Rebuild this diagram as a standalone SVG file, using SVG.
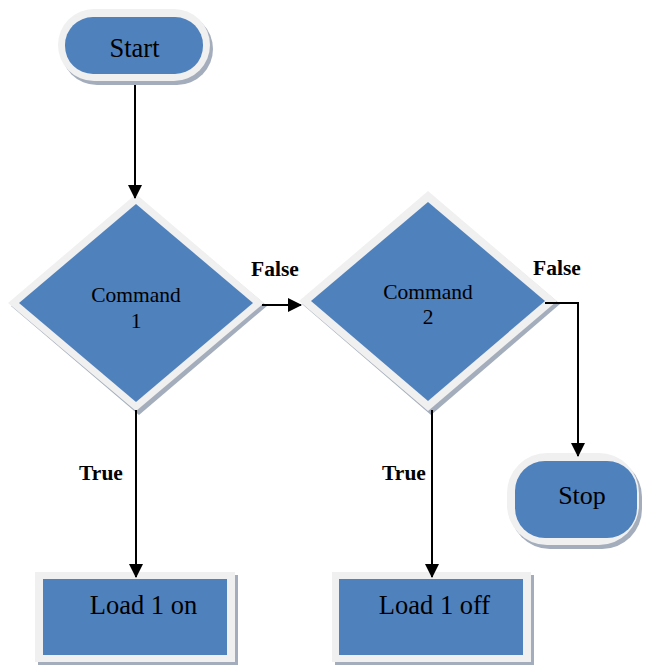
<svg xmlns="http://www.w3.org/2000/svg" width="645" height="666" viewBox="0 0 645 666">
  <style>
    .shadow { fill: #a3adbc; }
    .outer { fill: #f0f0f0; }
    .inner { fill: #4f81bd; }
    .conn { fill: none; stroke: #000; stroke-width: 2; }
  </style>
  <defs>
    <marker id="arrow" markerUnits="userSpaceOnUse" markerWidth="14" markerHeight="14" viewBox="0 0 14 14" refX="13" refY="7" orient="auto">
      <path d="M0,0 L14,7 L0,14 Z" fill="#000"/>
    </marker>
  </defs>
  <rect width="645" height="666" fill="#ffffff"/>

  <g id="start">
    <rect class="shadow" x="61" y="13" width="152" height="72" rx="36"/>
    <rect class="outer" x="58" y="9" width="152" height="72" rx="36"/>
    <rect class="inner" x="65" y="17" width="138" height="57" rx="28"/>
    <text x="134.5" y="57" font-family="'Liberation Serif', 'Times New Roman', serif" font-size="26.5" text-anchor="middle" fill="#000">Start</text>
  </g>

  <g id="command1">
    <polygon class="shadow" points="139,198 267,306 139,415 11,306"/>
    <polygon class="outer" points="136,194 264,303 136,411 8,303"/>
    <polygon class="inner" points="136,204 253,303 136,402 19,303"/>
    <text x="136" y="302" font-family="'Liberation Serif', 'Times New Roman', serif" font-size="21.5" text-anchor="middle" fill="#000">Command</text>
    <text x="136" y="328" font-family="'Liberation Serif', 'Times New Roman', serif" font-size="21.5" text-anchor="middle" fill="#000">1</text>
  </g>

  <g id="command2">
    <polygon class="shadow" points="431,195 560,304 431,415 302,304"/>
    <polygon class="outer" points="428,191 557,301 428,411 299,301"/>
    <polygon class="inner" points="428,202 545,301 428,401 311,301"/>
    <text x="428" y="299" font-family="'Liberation Serif', 'Times New Roman', serif" font-size="21.5" text-anchor="middle" fill="#000">Command</text>
    <text x="428" y="324" font-family="'Liberation Serif', 'Times New Roman', serif" font-size="21.5" text-anchor="middle" fill="#000">2</text>
  </g>

  <g id="stop">
    <rect class="shadow" x="510" y="457" width="132" height="92" rx="40"/>
    <rect class="outer" x="507" y="453" width="132" height="92" rx="40"/>
    <rect class="inner" x="515" y="461" width="122" height="77" rx="30"/>
    <text x="582" y="504" font-family="'Liberation Serif', 'Times New Roman', serif" font-size="26" text-anchor="middle" fill="#000">Stop</text>
  </g>

  <g id="load1on">
    <rect class="shadow" x="38" y="575" width="200" height="90"/>
    <rect class="outer" x="35" y="572" width="200" height="90"/>
    <rect class="inner" x="43" y="579" width="184" height="76"/>
    <text x="143.5" y="614" font-family="'Liberation Serif', 'Times New Roman', serif" font-size="26.5" text-anchor="middle" fill="#000">Load 1 on</text>
  </g>

  <g id="load1off">
    <rect class="shadow" x="335" y="575" width="199" height="90"/>
    <rect class="outer" x="332" y="572" width="199" height="90"/>
    <rect class="inner" x="339" y="579" width="184" height="76"/>
    <text x="434.5" y="614" font-family="'Liberation Serif', 'Times New Roman', serif" font-size="26.5" text-anchor="middle" fill="#000">Load 1 off</text>
  </g>

  <g id="connectors">
    <line class="conn" x1="135" y1="85" x2="135" y2="198" marker-end="url(#arrow)"/>
    <line class="conn" x1="262" y1="305" x2="301" y2="305" marker-end="url(#arrow)"/>
    <polyline class="conn" points="545,303 578,303 578,456" marker-end="url(#arrow)"/>
    <line class="conn" x1="136" y1="410" x2="136" y2="577" marker-end="url(#arrow)"/>
    <line class="conn" x1="432" y1="410" x2="432" y2="577" marker-end="url(#arrow)"/>
    <text x="275" y="276" font-family="'Liberation Serif', 'Times New Roman', serif" font-size="21.5" font-weight="bold" text-anchor="middle" fill="#000">False</text>
    <text x="557" y="275" font-family="'Liberation Serif', 'Times New Roman', serif" font-size="21.5" font-weight="bold" text-anchor="middle" fill="#000">False</text>
    <text x="101" y="480" font-family="'Liberation Serif', 'Times New Roman', serif" font-size="21.5" font-weight="bold" text-anchor="middle" fill="#000">True</text>
    <text x="404" y="480" font-family="'Liberation Serif', 'Times New Roman', serif" font-size="21.5" font-weight="bold" text-anchor="middle" fill="#000">True</text>
  </g>
</svg>
